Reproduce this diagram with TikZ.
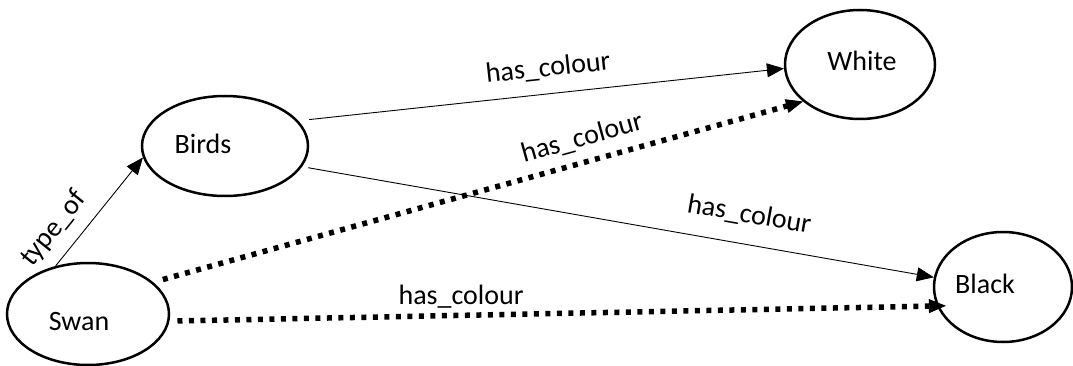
\documentclass[tikz,border=0pt]{standalone}
\usepackage{fontspec}
\setmainfont{Carlito}
\usetikzlibrary{shapes.geometric,arrows.meta}
\tikzset{
  bub/.style={ellipse, draw, line width=2.5pt, inner sep=0pt},
  rel/.style={-{Triangle[length=17pt,width=14pt,line width=0.8pt]}, line width=0.9pt},
  dotrel/.style={rel, line width=5.5pt, dash pattern=on 5pt off 6.5pt},
}
\begin{document}
\begin{tikzpicture}[x=1pt, y=-1pt, font=\fontsize{28}{32}\selectfont]
\useasboundingbox (0,0) rectangle (1073,366);

\node [bub, minimum width=162pt, minimum height=102pt, label={[xshift=-9pt, yshift=-8pt]center:Swan}] (swan) at (88,314) {};
\node [bub, minimum width=166pt, minimum height=100pt, label={[xshift=-22pt, yshift=2pt]center:Birds}] (birds) at (225,146) {};
\node [bub, minimum width=150pt, minimum height=109pt, label={[xshift=2pt, yshift=4pt]center:White}] (white) at (860,64.5) {};
\node [bub, minimum width=138pt, minimum height=110pt, label={[xshift=-18pt, yshift=3pt]center:Black}] (black) at (1003,287) {};

\draw [rel] (swan.124) -- (birds.188) node [pos=0.2, above=9pt, sloped] {type\_of};
\draw [rel, shorten <=11pt] (birds.19) -- (white.183) node [pos=0.52, above=10pt, sloped] {has\_colour};
\draw [rel, shorten <=6pt] (birds.-15) -- (black.172) node [pos=0.7, above=14pt, sloped] {has\_colour};
\draw [dotrel, shorten <=10pt] (swan.26) -- (white.213) node [pos=0.67, above=6pt, sloped] {has\_colour};
\draw [dotrel, shorten <=8pt, shorten >=-9pt] (swan.-5) -- (black.196) node [pos=0.38, above=1pt] {has\_colour};
\end{tikzpicture}
\end{document}
